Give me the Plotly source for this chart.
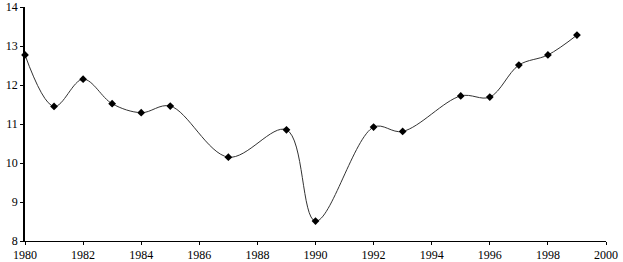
import plotly.graph_objects as go

years = [1980, 1981, 1982, 1983, 1984, 1985, 1987, 1989, 1990, 1992, 1993, 1995, 1996, 1997, 1998, 1999]
values = [12.77, 11.45, 12.15, 11.52, 11.29, 11.46, 10.15, 10.85, 8.51, 10.92, 10.81, 11.72, 11.69, 12.51, 12.77, 13.28]
x_ticks = list(range(1980, 2001, 2))
y_ticks = list(range(8, 15))

fig = go.Figure()
fig.add_trace(go.Scatter(
    x=years, y=values, mode="lines+markers",
    line=dict(shape="spline", smoothing=1.0, color="#333333", width=1),
    marker=dict(symbol="diamond", size=6, color="black"),
    showlegend=False, cliponaxis=False, hoverinfo="skip",
))

fig.update_layout(
    width=623, height=262,
    margin=dict(l=25, r=17, t=7, b=21, autoexpand=False),
    paper_bgcolor="white", plot_bgcolor="white",
    font=dict(family="Liberation Serif", size=12, color="black"),
)
fig.update_xaxes(
    range=[1980, 2000], tickvals=x_ticks, ticktext=[str(t) for t in x_ticks],
    showgrid=False, zeroline=False, showline=True, linecolor="black", linewidth=1,
    ticks="outside", ticklen=3, tickcolor="black", automargin=False,
    ticklabeloverflow="allow",
)
fig.update_yaxes(
    range=[8, 14], tickvals=y_ticks, ticktext=[str(t) for t in y_ticks],
    showgrid=False, zeroline=False, showline=True, linecolor="black", linewidth=1.5,
    ticks="outside", ticklen=3, tickcolor="black", automargin=False,
    ticklabeloverflow="allow",
)

fig.write_html("out.html", config={"displayModeBar": False},
               post_script="document.body.style.margin='0';document.body.style.overflow='hidden';")
